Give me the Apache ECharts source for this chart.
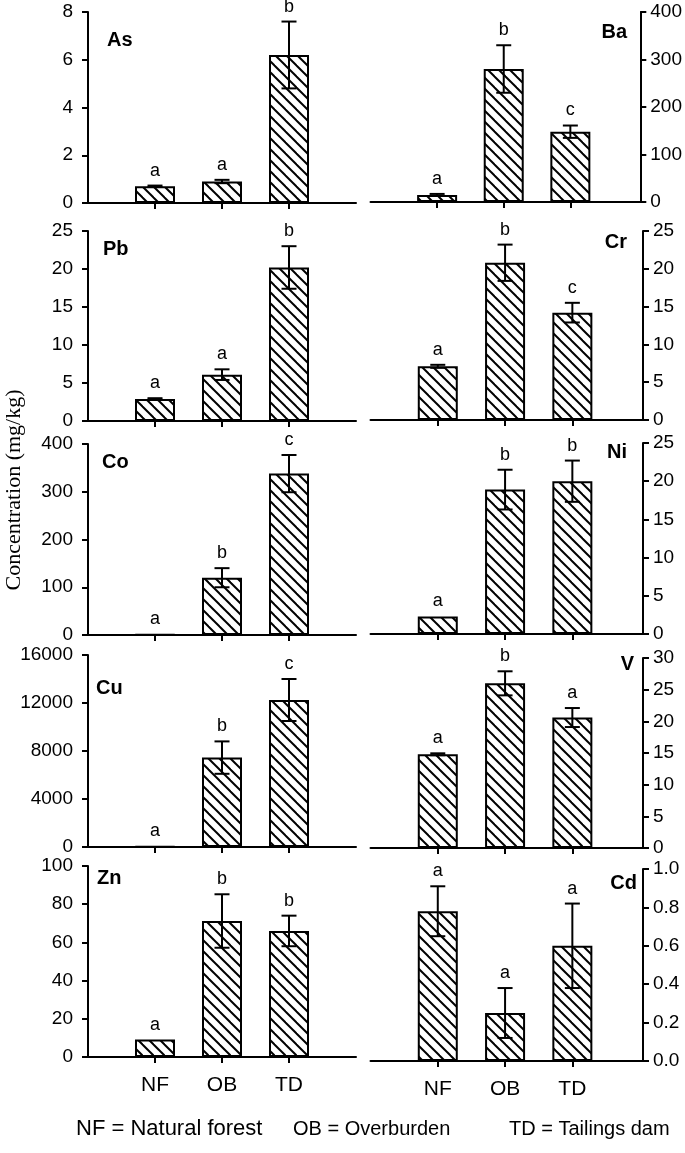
<!DOCTYPE html>
<html><head><meta charset="utf-8">
<script src="https://cdn.jsdelivr.net/npm/echarts@6/dist/echarts.min.js"></script>
<style>html,body{margin:0;padding:0;background:#fff}#c{width:685px;height:1153px}</style>
</head><body><div id="c"></div>
<script>
// ---- data ----
const categories = ['NF', 'OB', 'TD'];
const asMean = [0.7, 0.9, 6.2],    asErr = [0.03, 0.07, 1.4],  asLetters = ['a', 'a', 'b'];
const baMean = [15, 280, 148],     baErr = [2, 50, 13],        baLetters = ['a', 'b', 'c'];
const pbMean = [2.9, 6.1, 20.2],   pbErr = [0.1, 0.7, 2.8],    pbLetters = ['a', 'a', 'b'];
const crMean = [7.1, 20.8, 14.2],  crErr = [0.2, 2.4, 1.3],    crLetters = ['a', 'b', 'c'];
const coMean = [1, 120, 338],      coErr = [0, 20, 39],        coLetters = ['a', 'b', 'c'];
const niMean = [2.3, 18.9, 20.0],  niErr = [0, 2.6, 2.7],      niLetters = ['a', 'b', 'b'];
const cuMean = [50, 7450, 12250],  cuErr = [0, 1350, 1750],    cuLetters = ['a', 'b', 'c'];
const vMean  = [14.8, 26.0, 20.6], vErr  = [0.15, 1.9, 1.5],   vLetters  = ['a', 'b', 'a'];
const znMean = [9.1, 71.2, 66.0],  znErr = [0, 14, 8],         znLetters = ['a', 'b', 'b'];
const cdMean = [0.78, 0.25, 0.6],  cdErr = [0.13, 0.13, 0.22], cdLetters = ['a', 'a', 'a'];
const yTitle = 'Concentration (mg/kg)';
const footer = ['NF = Natural forest', 'OB = Overburden', 'TD = Tailings dam'];

// ---- layout ----
const panels = [
  {name:'As', mean:asMean, err:asErr, letters:asLetters, max:8,     interval:2,    side:'left',  top:12,  bottom:203,  lx:107, ly:40},
  {name:'Ba', mean:baMean, err:baErr, letters:baLetters, max:400,   interval:100,  side:'right', top:12,  bottom:202,  lx:627, ly:32},
  {name:'Pb', mean:pbMean, err:pbErr, letters:pbLetters, max:25,    interval:5,    side:'left',  top:231, bottom:421,  lx:103, ly:249},
  {name:'Cr', mean:crMean, err:crErr, letters:crLetters, max:25,    interval:5,    side:'right', top:231, bottom:420,  lx:627, ly:242},
  {name:'Co', mean:coMean, err:coErr, letters:coLetters, max:400,   interval:100,  side:'left',  top:444, bottom:635,  lx:102, ly:462},
  {name:'Ni', mean:niMean, err:niErr, letters:niLetters, max:25,    interval:5,    side:'right', top:443, bottom:634,  lx:627, ly:452},
  {name:'Cu', mean:cuMean, err:cuErr, letters:cuLetters, max:16000, interval:4000, side:'left',  top:655, bottom:847,  lx:96,  ly:688},
  {name:'V',  mean:vMean,  err:vErr,  letters:vLetters,  max:30,    interval:5,    side:'right', top:658, bottom:848,  lx:634, ly:664},
  {name:'Zn', mean:znMean, err:znErr, letters:znLetters, max:100,   interval:20,   side:'left',  top:866, bottom:1057, lx:97,  ly:878},
  {name:'Cd', mean:cdMean, err:cdErr, letters:cdLetters, max:1,     interval:0.2,  side:'right', top:869, bottom:1061, lx:637, ly:883, dec:1}
];

const FONT = '"Liberation Sans", Arial, sans-serif';
const BLACK = '#000';

function hatch() {
  const s = 11;
  const c = document.createElement('canvas');
  c.width = s; c.height = s;
  const g = c.getContext('2d');
  g.fillStyle = '#fff'; g.fillRect(0, 0, s, s);
  g.strokeStyle = '#000'; g.lineWidth = 2;
  for (const k of [-1, 0, 1]) {
    g.beginPath();
    g.moveTo(-1, -1 - k * s);
    g.lineTo(s + 1, s + 1 - k * s);
    g.stroke();
  }
  return c;
}
const pattern = hatch();

const grids = [], xAxes = [], yAxes = [], series = [], graphics = [];
panels.forEach((p, i) => {
  const left = p.side === 'left';
  const bottomRow = i >= 8;
  grids.push({left: left ? 88 : 370.5, width: left ? 268 : 272.5, top: p.top, height: p.bottom - p.top, containLabel: false});
  xAxes.push({
    type: 'value', gridIndex: i, min: 0, max: left ? 4 : 4.05,
    axisLine: {show: true, onZero: false, lineStyle: {color: BLACK, width: 2}},
    axisTick: {show: true, customValues: [1, 2, 3], length: 6, lineStyle: {color: BLACK, width: 2}},
    axisLabel: {show: bottomRow, customValues: [1, 2, 3], formatter: v => categories[Math.round(v) - 1] || '',
                fontSize: 21, color: BLACK, fontFamily: FONT, margin: 18},
    splitLine: {show: false}
  });
  yAxes.push({
    type: 'value', gridIndex: i, position: p.side, min: 0, max: p.max, interval: p.interval,
    axisLine: {show: true, onZero: false, lineStyle: {color: BLACK, width: 2}},
    axisTick: {show: true, length: 6, lineStyle: {color: BLACK, width: 2}},
    axisLabel: {fontSize: 19, color: BLACK, fontFamily: FONT, margin: left ? 15 : 10,
                formatter: v => p.dec ? v.toFixed(p.dec) : String(v)},
    splitLine: {show: false}
  });
  series.push({
    type: 'bar', xAxisIndex: i, yAxisIndex: i, barWidth: 40, silent: true,
    data: p.mean.map((v, j) => [j + 1, v]),
    itemStyle: {color: {image: pattern, repeat: 'repeat'}, borderColor: BLACK, borderWidth: 2}
  });
  series.push({
    type: 'custom', xAxisIndex: i, yAxisIndex: i, silent: true, clip: false, z: 5,
    data: p.mean.map((v, j) => [j + 1, v, p.err[j]]),
    renderItem: (params, api) => {
      const x = api.value(0), v = api.value(1), e = api.value(2);
      const t = api.coord([x, v + e]);
      const b = api.coord([x, v - e]);
      const st = {stroke: BLACK, lineWidth: 2};
      const ch = [];
      if (e > 0) {
        ch.push({type: 'line', shape: {x1: t[0], y1: t[1], x2: b[0], y2: b[1]}, style: st});
        ch.push({type: 'line', shape: {x1: t[0] - 7.5, y1: t[1], x2: t[0] + 7.5, y2: t[1]}, style: st});
        ch.push({type: 'line', shape: {x1: b[0] - 7.5, y1: b[1], x2: b[0] + 7.5, y2: b[1]}, style: st});
      }
      ch.push({type: 'text', style: {text: p.letters[params.dataIndex], x: t[0], y: t[1] - 6,
               align: 'center', verticalAlign: 'bottom', font: '18px ' + FONT, fill: BLACK}});
      return {type: 'group', children: ch};
    }
  });
  graphics.push({type: 'text', x: p.lx, y: p.ly,
    style: {text: p.name, font: 'bold 20px ' + FONT, fill: BLACK, align: left ? 'left' : 'right', verticalAlign: 'middle'}});
});

graphics.push({type: 'text', x: 14, y: 490, rotation: Math.PI / 2,
  style: {text: yTitle, font: '22px "Liberation Serif", "Times New Roman", serif', fill: BLACK, align: 'center', verticalAlign: 'middle'}});
const footX = [76, 293, 509];
const footSize = [22, 20, 20];
footer.forEach((t, k) => graphics.push({type: 'text', x: footX[k], y: 1129,
  style: {text: t, font: footSize[k] + 'px ' + FONT, fill: BLACK, align: 'left', verticalAlign: 'middle'}}));

const chart = echarts.init(document.getElementById('c'), null, {renderer: 'canvas'});
chart.setOption({
  animation: false,
  backgroundColor: '#fff',
  grid: grids, xAxis: xAxes, yAxis: yAxes, series: series,
  graphic: graphics
});
</script></body></html>
